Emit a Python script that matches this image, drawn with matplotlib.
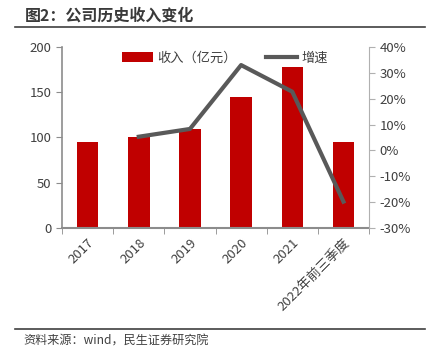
import matplotlib.pyplot as plt
from matplotlib.ticker import FuncFormatter
import numpy as np

plt.rcParams['font.family'] = ['Noto Sans CJK SC', 'DejaVu Sans']

categories = ['2017', '2018', '2019', '2020', '2021', '2022年前三季度']
revenue = [95, 100, 109, 145, 178, 95]          # 收入（亿元）
growth = [None, 5.3, 8.3, 33.0, 22.7, -19.8]    # 增速 %

red = '#C00000'
line_grey = '#595959'
axis_grey = '#8c8c8c'
text_grey = '#404040'

fig = plt.figure(figsize=(4.31, 3.55), dpi=100)
ax = fig.add_axes([0.1439, 0.3577, 0.7123, 0.51])
ax2 = ax.twinx()

x = np.arange(len(categories))
ax.bar(x, revenue, width=0.42, color=red, label='收入（亿元）', zorder=2)
gx = [i for i, g in zip(x, growth) if g is not None]
gy = [g for g in growth if g is not None]
ax2.plot(gx, gy, color=line_grey, lw=3, label='增速', zorder=3)

ax.set_xlim(-0.5, len(categories) - 0.5)
ax.set_ylim(0, 200)
ax.set_yticks([0, 50, 100, 150, 200])
ax2.set_ylim(-30, 40)
ax2.set_yticks(range(-30, 41, 10))
ax2.yaxis.set_major_formatter(FuncFormatter(lambda v, p: '%d%%' % v))

ax.set_xticks(x)
ax.set_xticklabels(categories, rotation=45, ha='right', rotation_mode='anchor')
ax.set_xticks(np.arange(-0.5, len(categories), 1), minor=True)
ax.tick_params(axis='x', which='major', length=0, pad=6)
ax.tick_params(axis='x', which='minor', length=4, color=axis_grey, direction='out')

for a in (ax, ax2):
    for s in a.spines.values():
        s.set_visible(False)
ax.spines['left'].set_visible(True)
ax.spines['left'].set_color(axis_grey)
ax.spines['left'].set_linewidth(1.2)
ax.spines['bottom'].set_visible(True)
ax.spines['bottom'].set_color(axis_grey)
ax.spines['bottom'].set_linewidth(1.5)
ax2.spines['right'].set_visible(True)
ax2.spines['right'].set_color('#b0b0b0')

ax.tick_params(axis='y', length=4, color=axis_grey, labelsize=9.5, labelcolor=text_grey)
ax.tick_params(axis='x', labelsize=9.5, labelcolor=text_grey)
ax2.tick_params(axis='y', length=4, color='#b0b0b0', labelsize=9.5, labelcolor=text_grey)

h1, l1 = ax.get_legend_handles_labels()
h2, l2 = ax2.get_legend_handles_labels()
ax2.legend(h1 + h2, l1 + l2, loc='upper center', ncol=2, frameon=False,
           fontsize=9.5, bbox_to_anchor=(0.53, 1.04), handlelength=2.4,
           handletextpad=0.3, columnspacing=2.2, labelcolor=text_grey)

fig.text(0.058, 0.955, '图2：公司历史收入变化', fontsize=11.5, fontweight='bold',
         color='#3a3a3a', va='center')
fig.add_artist(plt.Line2D([0.035, 0.985], [0.925, 0.925], color='#404040', lw=1.2))
fig.add_artist(plt.Line2D([0.035, 0.985], [0.073, 0.073], color='#404040', lw=1.2))
fig.text(0.055, 0.040, '资料来源：wind，民生证券研究院', fontsize=8.7, color=text_grey, va='center')

fig.savefig('out.png', dpi=100)
